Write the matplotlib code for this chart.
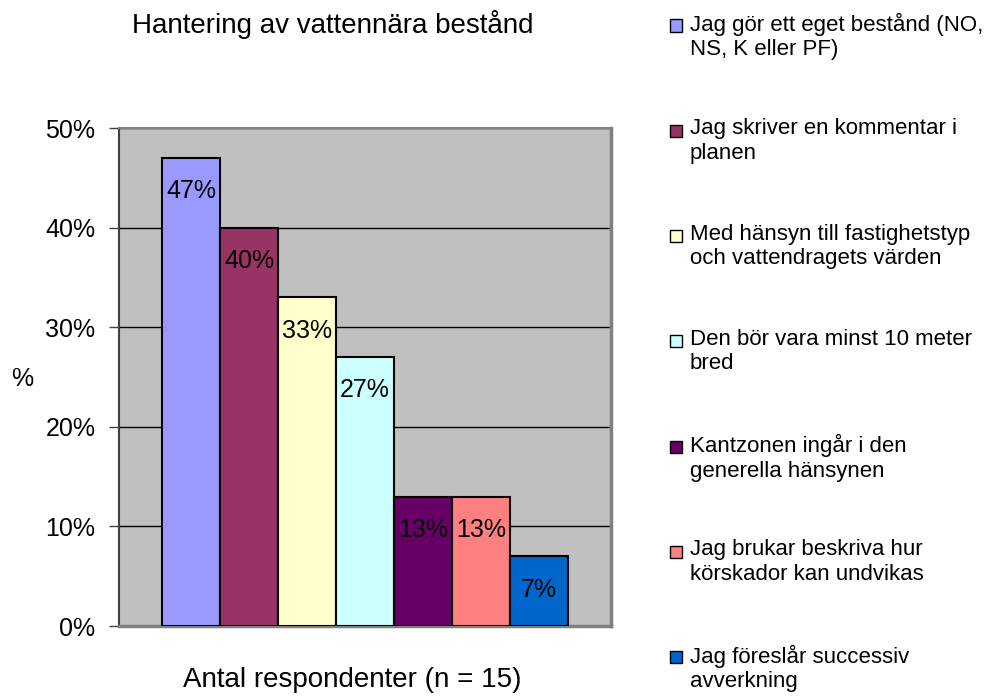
import numpy as np
import matplotlib.pyplot as plt
from matplotlib.patches import Rectangle

plt.rcParams['font.family'] = ['Liberation Sans', 'DejaVu Sans']

# data
categories = [
    "Jag gör ett eget bestånd (NO,\nNS, K eller PF)",
    "Jag skriver en kommentar i\nplanen",
    "Med hänsyn till fastighetstyp\noch vattendragets värden",
    "Den bör vara minst 10 meter\nbred",
    "Kantzonen ingår i den\ngenerella hänsynen",
    "Jag brukar beskriva hur\nkörskador kan undvikas",
    "Jag föreslår successiv\navverkning",
]
values = [47, 40, 33, 27, 13, 13, 7]
bar_labels = ["47%", "40%", "33%", "27%", "13%", "13%", "7%"]
colors = ["#9999FF", "#993366", "#FFFFCC", "#CCFFFF", "#660066", "#FF8080", "#0066CC"]
yticks = [0, 10, 20, 30, 40, 50]
ytick_labels = ["0%", "10%", "20%", "30%", "40%", "50%"]

fig = plt.figure(figsize=(9.97, 6.96), dpi=100)
ax = fig.add_axes([119 / 997, 70 / 696, 492 / 997, 498 / 696])
ax.set_facecolor("#C0C0C0")

x = np.arange(len(values))
ax.bar(x, values, width=1.0, color=colors, edgecolor="black", linewidth=1.5, zorder=3)
for xi, v, lab in zip(x, values, bar_labels):
    ax.annotate(lab, (xi, v), xytext=(0, -24), textcoords="offset points",
                ha="center", va="center", fontsize=18, zorder=4)

pad = 43 / 58
ax.set_xlim(-0.5 - pad, len(values) - 0.5 + pad)
ax.set_ylim(0, 50)
ax.set_yticks(yticks)
ax.set_yticklabels(ytick_labels, fontsize=18)
ax.set_xticks([])
ax.grid(axis="y", color="black", linewidth=1, zorder=1)
ax.tick_params(axis="y", length=7, width=1, color="#404040", pad=10)
for s in ["right", "bottom"]:
    ax.spines[s].set_color("#808080")
    ax.spines[s].set_linewidth(2.5)
ax.spines["top"].set_color("#808080")
ax.spines["top"].set_linewidth(1.5)
ax.spines["left"].set_color("#404040")
ax.spines["left"].set_linewidth(1.5)

fig.text(132 / 997, 1 - 33 / 696, "Hantering av vattennära bestånd", ha="left", va="baseline", fontsize=20)
fig.text(183 / 997, 1 - 687 / 696, "Antal respondenter (n = 15)", ha="left", va="baseline", fontsize=20)
fig.text(22 / 997, 1 - 379 / 696, "%", ha="center", va="center", fontsize=18)

# legend
for i, (lab, c) in enumerate(zip(categories, colors)):
    yc = 25 + i * 105.3
    fig.patches.append(Rectangle((670 / 997, 1 - (yc + 6.5) / 696), 12 / 997, 12 / 696,
                                 facecolor=c, edgecolor="black", linewidth=1,
                                 transform=fig.transFigure, figure=fig))
    fig.text(690 / 997, 1 - (yc - 12) / 696, lab, ha="left", va="top",
             fontsize=16, linespacing=1.21)

fig.savefig("out.png", dpi=100)
